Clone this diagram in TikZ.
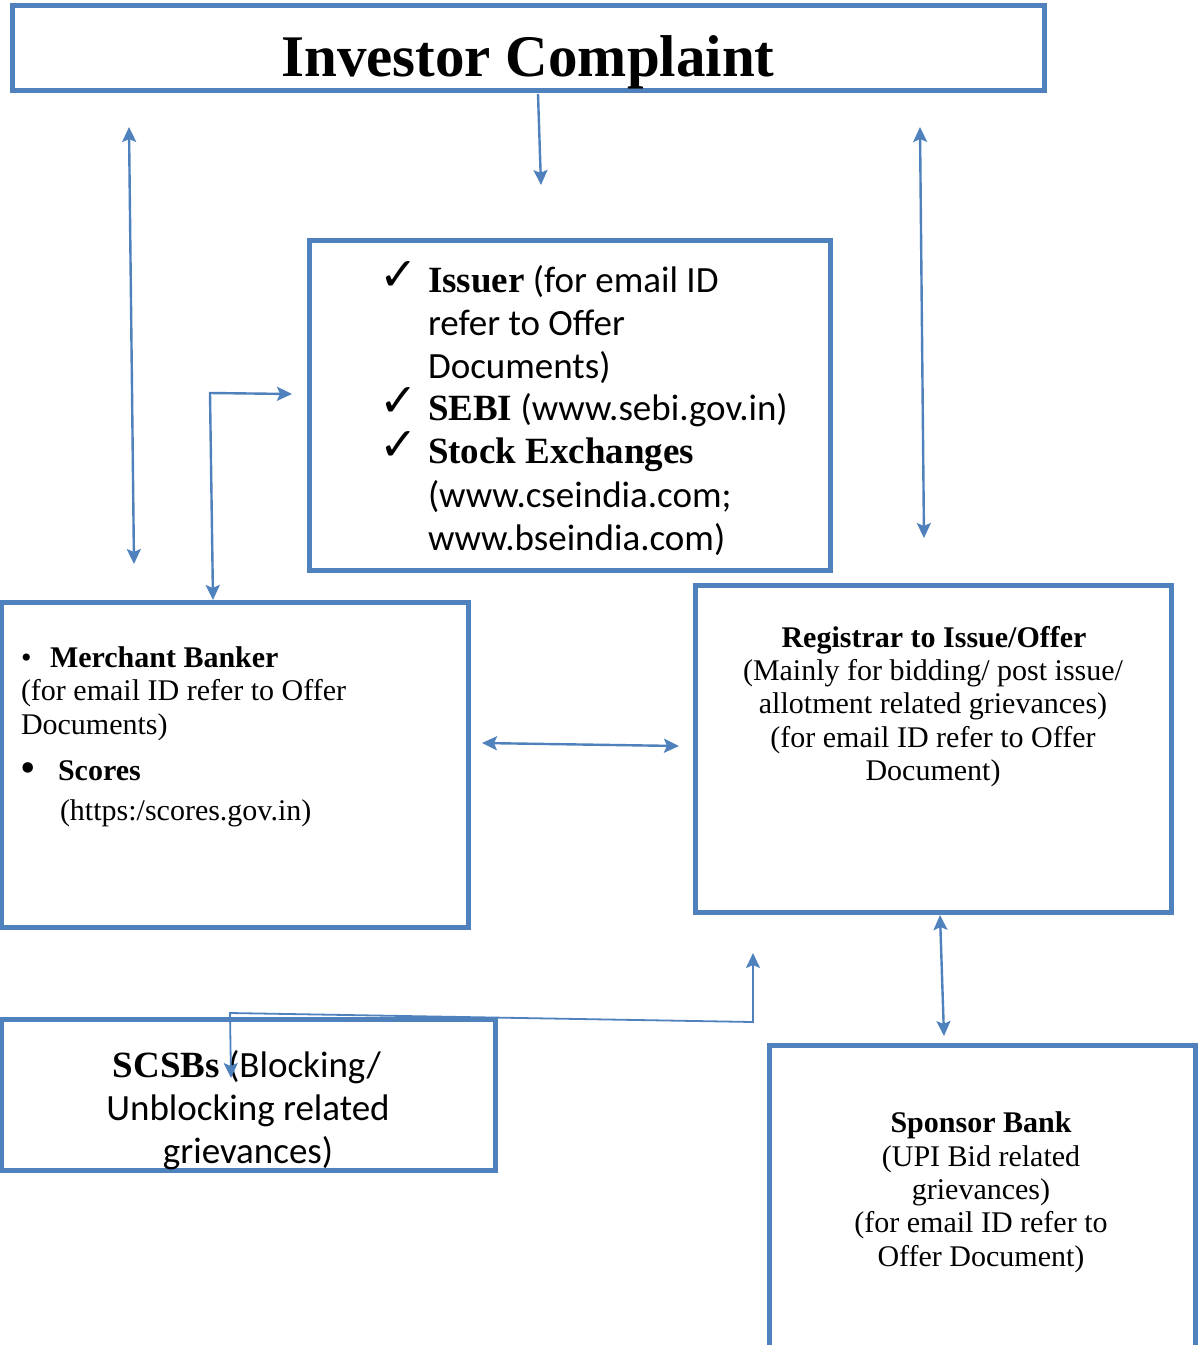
\documentclass[tikz,border=0pt]{standalone}
\usepackage{fontspec}
\setmainfont{Liberation Serif}
\newfontfamily\sansf{Carlito}
\newfontfamily\symf{DejaVu Sans}
\usetikzlibrary{arrows.meta}
\definecolor{ofblue}{HTML}{4F81BD}
\newcommand\bsr[1]{{\rmfamily\bfseries #1}}
\tikzset{
  box/.style={draw=ofblue, line width=5pt, inner sep=0pt, outer sep=0pt, anchor=north west},
  txt/.style={inner sep=0pt, outer sep=0pt},
  itxt/.style={txt, anchor=base west, font=\sansf\fontsize{37}{43}\selectfont},
  cktxt/.style={txt, anchor=base west, font=\symf\fontsize{46}{46}\selectfont},
  stxt/.style={txt, anchor=base, font=\fontsize{30}{34}\selectfont},
  sltxt/.style={txt, anchor=base west, font=\fontsize{30}{34}\selectfont},
  tipA/.tip={Stealth[length=15pt,width=14pt,inset=3pt]},
  conn/.style={draw=ofblue, line width=2.4pt},
  one/.style={conn, -tipA},
  bi/.style={conn, tipA-tipA},
}
\begin{document}
\begin{tikzpicture}[x=1pt,y=-1pt]
\useasboundingbox (0,0) rectangle (1201,1345);
\clip (0,0) rectangle (1201,1345);
\fill[white] (0,0) rectangle (1201,1345);

% boxes
\node[box, minimum width=1032pt, minimum height=85pt] (top) at (12,5) {};
\node[box, minimum width=521pt, minimum height=330pt] (issuer) at (309,240.5) {};
\node[box, minimum width=467pt, minimum height=325pt] (merchant) at (1.5,602) {};
\node[box, minimum width=476pt, minimum height=327pt] (registrar) at (695,585) {};
\node[box, minimum width=494pt, minimum height=151pt] (scsb) at (1.5,1019.5) {};
\node[box, minimum width=426pt, minimum height=330pt] (sponsor) at (769,1045) {};

% title
\node[txt, anchor=base, font=\bfseries\fontsize{59}{70}\selectfont] (ttl) at (528,76) {Investor Complaint};

% issuer box text
\node[cktxt] (c1) at (379,290) {✓};
\node[cktxt] (c2) at (379,416) {✓};
\node[cktxt] (c3) at (379,460) {✓};
\node[itxt] (i1) at (428,292) {\bsr{Issuer} (for email ID};
\node[itxt] (i2) at (428,335) {refer to Offer};
\node[itxt] (i3) at (428,378) {Documents)};
\node[itxt] (i4) at (428,420) {\bsr{SEBI} (www.sebi.gov.in)};
\node[itxt] (i5) at (428,463) {\bsr{Stock Exchanges}};
\node[itxt] (i6) at (428,507) {(www.cseindia.com;};
\node[itxt] (i7) at (428,550) {www.bseindia.com)};

% merchant box text
\node[sltxt] (mb1) at (21,667) {•};
\node[sltxt] (m1) at (50,667) {\bfseries Merchant Banker};
\node[sltxt] (m2) at (21,700) {(for email ID refer to Offer};
\node[sltxt] (m3) at (21,734) {Documents)};
\node[txt, anchor=base west, font=\fontsize{44}{44}\selectfont] (mb2) at (20,782) {•};
\node[sltxt] (m4) at (58,780) {\bfseries Scores};
\node[sltxt] (m5) at (60,820) {(https:/scores.gov.in)};

% registrar box text
\node[stxt] (r1) at (934,647) {\bfseries Registrar to Issue/Offer};
\node[stxt] (r2) at (933,680) {(Mainly for bidding/ post issue/};
\node[stxt] (r3) at (933,713) {allotment related grievances)};
\node[stxt] (r4) at (933,747) {(for email ID refer to Offer};
\node[stxt] (r5) at (933,780) {Document)};

% sponsor box text
\node[stxt] (s1) at (981,1132) {\bfseries Sponsor Bank};
\node[stxt] (s2) at (981,1166) {(UPI Bid related};
\node[stxt] (s3) at (981,1199) {grievances)};
\node[stxt] (s4) at (981,1232) {(for email ID refer to};
\node[stxt] (s5) at (981,1266) {Offer Document)};

% scsb box text
\node[txt, anchor=base, font=\sansf\fontsize{37}{43}\selectfont] (b1) at (247,1077) {\bsr{SCSBs} (Blocking/};
\node[txt, anchor=base, font=\sansf\fontsize{37}{43}\selectfont] (b2) at (248,1120) {Unblocking related};
\node[txt, anchor=base, font=\sansf\fontsize{37}{43}\selectfont] (b3) at (248,1163) {grievances)};

% connector end points
\coordinate (L1) at (129,127);
\coordinate (L2) at (134,564);
\coordinate (C1) at (538,94);
\coordinate (C2) at (541,185);
\coordinate (E1) at (292,394);
\coordinate (E2) at (210,393);
\coordinate (E3) at (213,600);
\coordinate (R1) at (920,127);
\coordinate (R2) at (924,538);
\coordinate (H1) at (482,743);
\coordinate (H2) at (679,746);
\coordinate (V1) at (940,915);
\coordinate (V2) at (944,1036);
\coordinate (S1) at (753,953);
\coordinate (S2) at (753,1022);
\coordinate (S3) at (230,1013);
\coordinate (S4) at (231,1078);

% connectors
\draw[bi] (L1) -- (L2);
\draw[one] (C1) -- (C2);
\draw[bi] (E1) -- (E2) -- (E3);
\draw[bi] (R1) -- (R2);
\draw[bi] (H1) -- (H2);
\draw[bi] (V1) -- (V2);
\draw[bi, line width=1.8pt] (S1) -- (S2) -- (S3) -- (S4);
\end{tikzpicture}
\end{document}
